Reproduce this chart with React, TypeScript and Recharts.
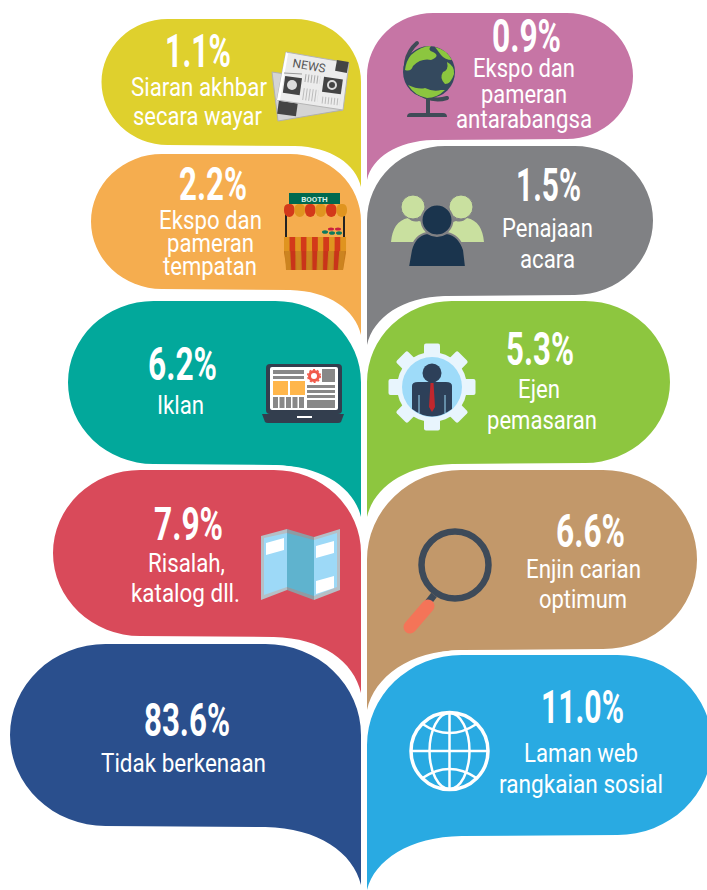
import { Scatter, ScatterChart, XAxis, YAxis } from "recharts";

const leftLabels = [
  ["Siaran akhbar", "secara wayar"],
  ["Ekspo dan", "pameran", "tempatan"],
  ["Iklan"],
  ["Risalah,", "katalog dll."],
  ["Tidak berkenaan"],
];
const leftValues = [1.1, 2.2, 6.2, 7.9, 83.6];

const rightLabels = [
  ["Ekspo dan", "pameran", "antarabangsa"],
  ["Penajaan", "acara"],
  ["Ejen", "pemasaran"],
  ["Enjin carian", "optimum"],
  ["Laman web", "rangkaian sosial"],
];
const rightValues = [0.9, 1.5, 5.3, 6.6, 11.0];

const leftColors = ["#dfd02d", "#f5ad4f", "#02a89b", "#d94a5a", "#2a4f8d"];
const rightColors = ["#c675a5", "#808184", "#8dc63f", "#c2986a", "#29aae2"];

// bubble shape, measured from the anchor that the axes give each row
type Shape = { reach: number; top: number; bottom: number; tip: number };
const leftShapes: Shape[] = [
  { reach: 259.5, top: -81, bottom: 45, tip: 87 },
  { reach: 270, top: -111, bottom: 24, tip: 70 },
  { reach: 293, top: -129, bottom: 34, tip: 87 },
  { reach: 308, top: -125, bottom: 41, tip: 98 },
  { reach: 351, top: -116, bottom: 66, tip: 125 },
];
const rightShapes: Shape[] = [
  { reach: 266, top: -87, bottom: 39, tip: 80 },
  { reach: 286, top: -119, bottom: 30, tip: 80 },
  { reach: 303, top: -129, bottom: 33, tip: 87 },
  { reach: 330, top: -125, bottom: 54, tip: 115 },
  { reach: 345, top: -105, bottom: 75, tip: 130 },
];

// [centre dx, baseline dy, text width]: value first, then one per label line
type TextSlot = [number, number, number];
const leftText: TextSlot[][] = [
  [[-163, -33, 66], [-162, -4, 136], [-163.5, 25, 129]],
  [[-148, -65, 68], [-150.5, -36, 103], [-150.5, -13, 87], [-151, 10, 94]],
  [[-178.5, -50, 69], [-180.5, -16, 47]],
  [[-172.5, -55, 69], [-174.5, -23, 77], [-175.5, 7, 109]],
  [[-174, -24, 86], [-177.5, 12, 165]],
];
const rightText: TextSlot[][] = [
  [[159.5, -48, 69], [157, -23, 102], [157, 3, 86], [157, 28, 136]],
  [[181.5, -64, 65], [180.5, -28, 91], [180.5, 3, 55]],
  [[173, -65, 68], [172, -32, 42], [175, -1, 110]],
  [[223.5, -48, 69], [216.5, -17, 115], [216, 13, 88]],
  [[215.5, -37, 83], [214, 2, 114], [214, 33, 164]],
];

const NewspaperIcon = () => (
  <g>
    <polygon points="0,22 40,28 71,60 6,71" fill="#d4d4d4" stroke="#b0b0b0" />
    <rect x={6} y={52} width={19} height={13} fill="#444" transform="rotate(8 15 58)" />
    <polygon points="14,2 77,13 71,60 5,50" fill="#ececec" stroke="#b5b5b5" />
    <polygon points="14,2 5,50 8,50 16,4" fill="#fff" />
    <text x={20} y={17} fontSize={12} fontFamily="Roboto" fill="#555" transform="rotate(10 20 17)">
      NEWS
    </text>
    <rect x={64} y={11} width={12} height={11} fill="#444" transform="rotate(10 70 16)" />
    <rect x={12} y={27} width={17} height={17} fill="#444" transform="rotate(8 20 35)" />
    <circle cx={20} cy={35} r={5} fill="#ddd" />
    <rect x={51} y={28} width={19} height={15} fill="#444" transform="rotate(8 60 35)" />
    <circle cx={60} cy={35} r={4} fill="none" stroke="#ddd" strokeWidth={2} />
    <line x1={33} y1={28} x2={48} y2={30} stroke="#aaa" strokeWidth={8} strokeDasharray="1 2" />
    <line x1={31} y1={44} x2={46} y2={46} stroke="#bbb" strokeWidth={12} strokeDasharray="1 2" />
    <line x1={50} y1={50} x2={68} y2={52} stroke="#bbb" strokeWidth={7} strokeDasharray="1 2" />
    <line x1={12} y1={23} x2={30} y2={24} stroke="#999" strokeWidth={1} />
  </g>
);

const boothStripes = ["#e0941f", "#d3391a", "#e0941f", "#d3391a", "#e0941f", "#d3391a", "#e0941f", "#d3391a", "#e0941f", "#d3391a", "#e0941f"];
const BoothIcon = () => (
  <g>
    <rect x={2} y={18} width={2} height={28} fill="#222" />
    <rect x={60} y={18} width={2} height={28} fill="#222" />
    <rect x={6} y={0} width={51} height={11} fill="#00694f" />
    <text x={31.5} y={9} fontSize={8} fontWeight={700} fontFamily="Roboto" fill="#d8efe6" textAnchor="middle">
      BOOTH
    </text>
    {[0, 1, 2, 3, 4, 5].map((i) => (
      <path
        key={i}
        d={`M${1 + i * 10.5} 16 q0 -5 5 -5 h1 q4 0 4.5 5 v2 a5.25 6 0 0 1 -10.5 0 z`}
        fill={i % 2 === 0 ? "#d3391a" : "#e0941f"}
      />
    ))}
    <ellipse cx={42} cy={39} rx={3} ry={1.8} fill="#0d7a5f" />
    <ellipse cx={49} cy={40} rx={3} ry={1.8} fill="#0d7a5f" />
    <ellipse cx={56} cy={40} rx={3} ry={1.8} fill="#0d7a5f" />
    <ellipse cx={48} cy={36} rx={3} ry={1.5} fill="#c8203f" />
    <ellipse cx={55} cy={36} rx={3} ry={1.5} fill="#c8203f" />
    <polygon points="1,44 63,44 63,60 60,77 4,77 1,60" fill="#c87a1c" />
    {boothStripes.map((c, i) => (
      <polygon
        key={i}
        points={`${1 + i * 5.64},44 ${6.64 + i * 5.64},44 ${7 + i * 5.3},77 ${3 + i * 5.3},77`}
        fill={c === "#e0941f" ? "#cc8420" : "#c9341a"}
      />
    ))}
    {boothStripes.map((c, i) => (
      <rect key={i} x={1 + i * 5.64} y={44} width={5.64} height={14} fill={c} />
    ))}
  </g>
);

const LaptopIcon = () => (
  <g>
    <rect x={4} y={0} width={76} height={50} rx={4} fill="#333e4e" />
    <rect x={8} y={3} width={68} height={43} rx={2} fill="#fff" />
    <path d="M0 50 H82 L79 58 Q78 59 76 59 H6 Q4 59 3 58 Z" fill="#333e4e" />
    <rect x={35} y={52} width={15} height={2} fill="#fff" />
    <rect x={11} y={6} width={31} height={4} fill="#888" />
    <rect x={11} y={12} width={31} height={3} fill="#888" />
    <rect x={60} y={5} width={13} height={13} fill="#888" />
    <circle cx={52} cy={12} r={4.5} fill="none" stroke="#f15a4a" strokeWidth={3} />
    <circle cx={52} cy={12} r={6.3} fill="none" stroke="#f15a4a" strokeWidth={1.5} strokeDasharray="2 2" />
    <rect x={11} y={17} width={15} height={14} fill="#ffb64b" />
    <rect x={28} y={17} width={15} height={14} fill="#ffb64b" />
    <rect x={45} y={21} width={28} height={3} fill="#888" />
    <rect x={45} y={26} width={28} height={3} fill="#888" />
    <rect x={45} y={31} width={28} height={3} fill="#888" />
    <rect x={45} y={36} width={28} height={8} fill="#888" />
    {[0, 1, 2, 3, 4].map((i) => (
      <rect key={i} x={11 + i * 6.5} y={33} width={5} height={11} fill="#888" />
    ))}
  </g>
);

const MapIcon = () => (
  <g>
    <polygon points="0,7 26,0 26,61 0,71" fill="#b5bfc6" />
    <polygon points="26,0 53,8 53,71 26,61" fill="#8f9ba3" />
    <polygon points="53,8 79,0 79,61 53,71" fill="#b5bfc6" />
    <polygon points="3,9 26,4 26,58 3,66" fill="#9dd9f7" />
    <polygon points="26,4 53,11 53,67 26,58" fill="#5fb3ce" />
    <polygon points="53,11 76,4 76,58 53,67" fill="#9dd9f7" />
    <polygon points="5,14 23,9 23,21 5,26" fill="#fff" />
    <polygon points="55,17 73,12 73,24 55,29" fill="#fff" />
    <polygon points="55,52 73,47 73,59 55,65" fill="#fff" />
  </g>
);

const GlobeIcon = () => (
  <g>
    <path d="M20 3 A 32 32 0 0 0 50 58" fill="none" stroke="#3f4b57" strokeWidth={4} strokeLinecap="round" />
    <rect x={29} y={58} width={4} height={15} fill="#3f4b57" />
    <path d="M10 77 Q10 73 14 73 H46 Q50 73 50 77 Z" fill="#3f4b57" />
    <circle cx={32} cy={32} r={26} fill="#34495e" />
    <path d="M14 15 Q24 6 34 6 Q30 10 36 12 Q44 16 34 20 Q24 18 16 26 Q14 32 8 30 Q9 21 14 15 Z" fill="#8cc63f" />
    <path d="M38 7 Q50 10 55 20 Q48 20 44 15 Z" fill="#8cc63f" />
    <path d="M50 22 Q58 26 57 34 Q54 44 48 44 Q42 38 46 32 Q52 30 50 22 Z" fill="#8cc63f" />
    <path d="M11 45 Q22 50 28 48 Q36 52 44 50 L48 50 Q40 58 30 58 Q18 56 11 45 Z" fill="#8cc63f" />
  </g>
);

const PeopleIcon = () => (
  <g fill="#c9e09f">
    <path d="M0 47 Q2 26 17 23 Q22 28 28 26 Q36 28 38 34 L32 47 Z" />
    <path d="M93 47 Q91 26 76 23 Q71 28 65 26 Q57 28 55 34 L61 47 Z" />
    <circle cx={22} cy={12} r={12} stroke="#808184" strokeWidth={1} />
    <circle cx={70} cy={12} r={12} stroke="#808184" strokeWidth={1} />
    <circle cx={46} cy={25} r={15.5} fill="#1a344d" stroke="#808184" strokeWidth={2} />
    <path
      d="M17 72 L20 55 Q24 40 36 38 Q46 44 56 38 Q68 40 73 55 L75 72 Z"
      fill="#1a344d"
      stroke="#808184"
      strokeWidth={2}
    />
  </g>
);

const gearTeeth = [0, 45, 90, 135, 180, 225, 270, 315];
const GearIcon = () => (
  <g>
    {gearTeeth.map((a) => (
      <rect key={a} x={-8} y={-43.5} width={16} height={20} rx={2} fill="#e8f5fd" transform={`rotate(${a})`} />
    ))}
    <circle r={35} fill="#e8f5fd" />
    <circle r={30} fill="#9edbf9" />
    <circle cx={0} cy={-14} r={9.5} fill="#2d4059" />
    <path d="M-20 -1 Q-20 -5 -14 -5 H14 Q20 -5 20 -1 V22 Q10 29.5 0 29.5 Q-10 29.5 -20 22 Z" fill="#2d4059" />
    <line x1={-13} y1={8} x2={-13} y2={26} stroke="#9edbf9" strokeWidth={1} />
    <line x1={13} y1={8} x2={13} y2={26} stroke="#9edbf9" strokeWidth={1} />
    <path d="M-1.5 -4 H1.5 L3 20 L0 25 L-3 20 Z" fill="#c1272d" />
  </g>
);

const MagnifierIcon = () => (
  <g>
    <line x1={-21} y1={30} x2={-28} y2={39} stroke="#3d4a59" strokeWidth={7} />
    <line x1={-27} y1={41} x2={-45} y2={62} stroke="#f47458" strokeWidth={13} strokeLinecap="round" />
    <circle r={33.5} fill="none" stroke="#3d4a59" strokeWidth={6.5} />
  </g>
);

const WebIcon = () => (
  <g fill="none" stroke="#fff" strokeWidth={3}>
    <circle r={38.5} strokeWidth={3.5} />
    <ellipse rx={20} ry={38} strokeWidth={2.5} />
    <line x1={0} y1={-38} x2={0} y2={38} strokeWidth={2.5} />
    <line x1={-38} y1={0} x2={38} y2={0} strokeWidth={2.5} />
    <path d="M-27 -27 Q0 -9 27 -27" strokeWidth={2.5} />
    <path d="M-27 27 Q0 9 27 27" strokeWidth={2.5} />
  </g>
);

const leftIcons = [
  { dx: -89, dy: -50, Icon: NewspaperIcon },
  { dx: -78, dy: -72, Icon: BoothIcon },
  { dx: -99, dy: -66, Icon: LaptopIcon },
  { dx: -100, dy: -66, Icon: MapIcon },
  null,
];
const rightIcons = [
  { dx: 30, dy: -60, Icon: GlobeIcon },
  { dx: 24, dy: -70, Icon: PeopleIcon },
  { dx: 65, dy: -43, Icon: GearIcon },
  { dx: 88, dy: -30, Icon: MagnifierIcon },
  { dx: 82.5, dy: -9, Icon: WebIcon },
];

const leftData = leftValues.map((value, row) => ({ side: 0, row, value, lines: leftLabels[row] }));
const rightData = rightValues.map((value, row) => ({ side: 1, row, value, lines: rightLabels[row] }));

const bubblePath = ({ reach, top, bottom, tip }: Shape, s: number) => {
  const ry = (bottom - top) / 2;
  const rx = ry * 1.05;
  const sweep = s > 0 ? 1 : 0;
  return [
    `M0 ${top + ry}`,
    `A${rx} ${ry} 0 0 ${sweep} ${s * rx} ${top}`,
    `L${s * (reach - rx)} ${top}`,
    `A${rx} ${ry} 0 0 ${sweep} ${s * reach} ${top + ry}`,
    `A${rx} ${ry} 0 0 ${sweep} ${s * (reach - rx)} ${bottom}`,
    `L${s * rx} ${bottom + 1}`,
    `C${s * rx * 0.45} ${bottom + 2} ${s * rx * 0.08} ${bottom + (tip - bottom) * 0.45} 0 ${tip}`,
    "Z",
  ].join(" ");
};

const Bubble = (props: any) => {
  const { cx, cy, payload } = props;
  const { side, row, value, lines } = payload;
  const s = side === 0 ? -1 : 1;
  const shape = (side === 0 ? leftShapes : rightShapes)[row];
  const slots = (side === 0 ? leftText : rightText)[row];
  const color = (side === 0 ? leftColors : rightColors)[row];
  const icon = (side === 0 ? leftIcons : rightIcons)[row];
  const [vx, vy, vw] = slots[0];
  return (
    <g transform={`translate(${cx},${cy})`}>
      <path d={bubblePath(shape, s)} fill={color} stroke="#fff" strokeWidth={10} style={{ paintOrder: "stroke" }} />
      {icon && (
        <g transform={`translate(${icon.dx},${icon.dy})`}>
          <icon.Icon />
        </g>
      )}
      <text
        x={vx}
        y={vy}
        textAnchor="middle"
        fill="#fff"
        fontFamily="Roboto"
        fontWeight={700}
        fontSize={46}
        textLength={vw}
        lengthAdjust="spacingAndGlyphs"
      >
        {value.toFixed(1)}%
      </text>
      {lines.map((line: string, i: number) => {
        const [lx, ly, lw] = slots[i + 1];
        return (
          <text
            key={line}
            x={lx}
            y={ly}
            textAnchor="middle"
            fill="#fff"
            fontFamily="Roboto"
            fontSize={26}
            textLength={lw}
            lengthAdjust="spacingAndGlyphs"
          >
            {line}
          </text>
        );
      })}
    </g>
  );
};

export default function App() {
  return (
    <div style={{ position: "absolute", left: 0, top: 0, width: 707, height: 890, overflow: "hidden", background: "#fff" }}>
      <ScatterChart width={707} height={890} margin={{ top: 100, right: 340, bottom: 130, left: 361 }}>
        <XAxis type="number" dataKey="side" domain={[0, 1]} hide />
        <YAxis type="number" dataKey="row" domain={[0, 4]} reversed hide />
        <Scatter data={leftData} shape={Bubble} isAnimationActive={false} />
        <Scatter data={rightData} shape={Bubble} isAnimationActive={false} />
      </ScatterChart>
    </div>
  );
}
